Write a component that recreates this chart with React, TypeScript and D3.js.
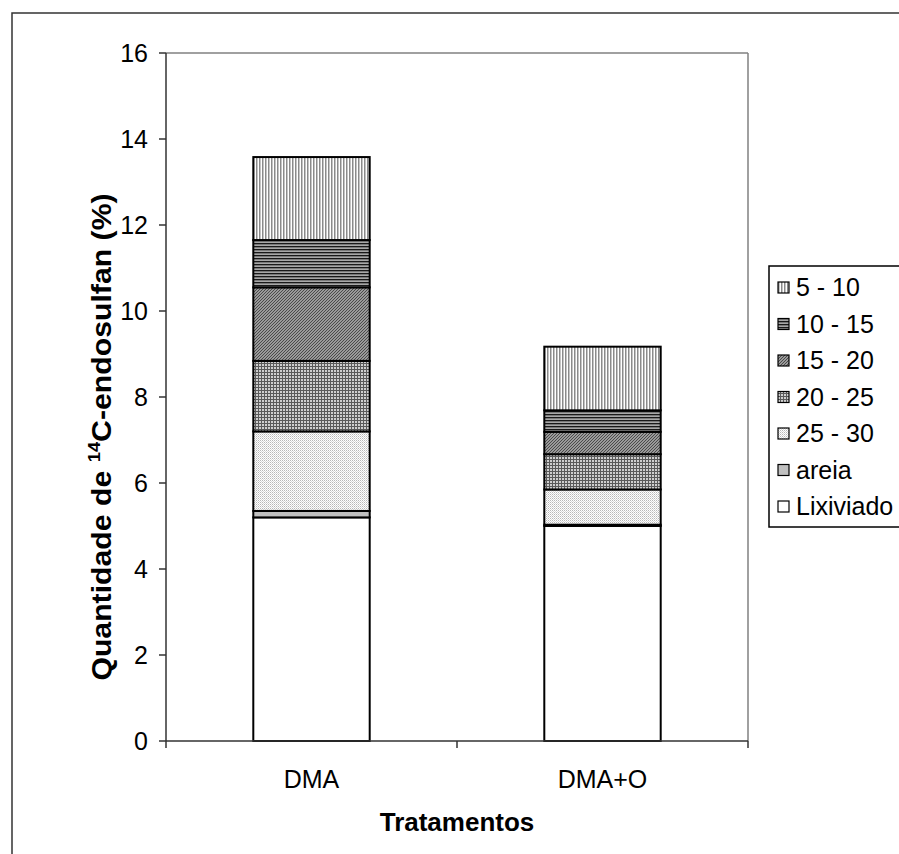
import React from "react";
import * as d3 from "d3";

// Treatments and the amount of 14C-endosulfan found in each fraction (%)
const categories = ["DMA", "DMA+O"];
const seriesKeys = ["Lixiviado", "areia", "25 - 30", "20 - 25", "15 - 20", "10 - 15", "5 - 10"];
const lixiviado = [5.2, 5.0];
const areia = [0.15, 0.03];
const depth25to30 = [1.85, 0.82];
const depth20to25 = [1.64, 0.82];
const depth15to20 = [1.71, 0.52];
const depth10to15 = [1.1, 0.5];
const depth5to10 = [1.93, 1.48];
const yTicks = [0, 2, 4, 6, 8, 10, 12, 14, 16];

const seriesValues: Record<string, number[]> = {
  "Lixiviado": lixiviado,
  "areia": areia,
  "25 - 30": depth25to30,
  "20 - 25": depth20to25,
  "15 - 20": depth15to20,
  "10 - 15": depth10to15,
  "5 - 10": depth5to10,
};

const fills: Record<string, string> = {
  "Lixiviado": "#ffffff",
  "areia": "#c0c0c0",
  "25 - 30": "url(#p2530)",
  "20 - 25": "url(#p2025)",
  "15 - 20": "url(#p1520)",
  "10 - 15": "url(#p1015)",
  "5 - 10": "url(#p510)",
};

const W = 899;
const H = 854;
const plot = { left: 166, right: 748, top: 53, bottom: 741 };
const FONT = "Arial, 'Liberation Sans', Helvetica, sans-serif";
const FS = 25;

export default function App() {
  const x = d3
    .scaleBand<string>()
    .domain(categories)
    .range([plot.left, plot.right])
    .paddingInner(0.6)
    .paddingOuter(0.3);
  const y = d3.scaleLinear().domain([0, 16]).range([plot.bottom, plot.top]);

  const table = categories.map((c, i) => {
    const row: Record<string, any> = { cat: c };
    seriesKeys.forEach((k) => (row[k] = seriesValues[k][i]));
    return row;
  });
  const stacked = d3.stack<Record<string, any>>().keys(seriesKeys)(table);

  const legendOrder = [...seriesKeys].reverse();
  const legend = { x: 769, y: 266, w: 160, h: 261 };

  return (
    <svg
      width={W}
      height={H}
      style={{ position: "absolute", left: 0, top: 0, background: "#fff" }}
      fontFamily={FONT}
    >
      <defs>
        <pattern id="p510" width={3} height={3} patternUnits="userSpaceOnUse">
          <rect width={3} height={3} fill="#ffffff" />
          <rect x={1} width={1} height={3} fill="#8a8a8a" />
          <rect x={2} width={1} height={3} fill="#c4c4c4" />
        </pattern>
        <pattern id="p1015" width={3} height={3} patternUnits="userSpaceOnUse">
          <rect width={3} height={3} fill="#7a7a7a" />
          <rect y={0} width={3} height={1} fill="#1a1a1a" />
          <rect y={2} width={3} height={1} fill="#a8a8a8" />
        </pattern>
        <pattern id="p1520" width={3} height={3} patternUnits="userSpaceOnUse">
          <rect width={3} height={3} fill="#9a9a9a" />
          <rect x={0} y={2} width={1} height={1} fill="#4a4a4a" />
          <rect x={1} y={1} width={1} height={1} fill="#4a4a4a" />
          <rect x={2} y={0} width={1} height={1} fill="#4a4a4a" />
        </pattern>
        <pattern id="p2025" width={3} height={3} patternUnits="userSpaceOnUse">
          <rect width={3} height={3} fill="#cfcfcf" />
          <rect width={3} height={1} fill="#5a5a5a" />
          <rect width={1} height={3} fill="#5a5a5a" />
        </pattern>
        <pattern id="p2530" width={2} height={2} patternUnits="userSpaceOnUse">
          <rect width={2} height={2} fill="#ffffff" />
          <rect width={1} height={1} fill="#b8b8b8" />
          <rect x={1} y={1} width={1} height={1} fill="#d8d8d8" />
        </pattern>
      </defs>

      {/* outer chart frame */}
      <rect x={12} y={13} width={1000} height={1000} fill="none" stroke="#333" strokeWidth={1.5} />

      {/* plot area frame */}
      <line x1={plot.left} x2={plot.right} y1={plot.top} y2={plot.top} stroke="#808080" strokeWidth={1.5} />
      <line x1={plot.right} x2={plot.right} y1={plot.top} y2={plot.bottom} stroke="#808080" strokeWidth={1.5} />

      {/* stacked bars */}
      {stacked.map((layer) => (
        <g key={layer.key}>
          {layer.map((d, i) => (
            <rect
              key={i}
              x={x(categories[i])!}
              width={x.bandwidth()}
              y={y(d[1])}
              height={Math.max(0, y(d[0]) - y(d[1]))}
              fill={fills[layer.key]}
              stroke="#000"
              strokeWidth={2}
            />
          ))}
        </g>
      ))}

      {/* y axis */}
      <line x1={plot.left} x2={plot.left} y1={plot.top} y2={plot.bottom} stroke="#333" strokeWidth={1.5} />
      {yTicks.map((t) => (
        <g key={t}>
          <line x1={plot.left - 7} x2={plot.left} y1={y(t)} y2={y(t)} stroke="#333" strokeWidth={1.5} />
          <text x={plot.left - 18} y={y(t)} dy="0.36em" textAnchor="end" fontSize={FS} fill="#000">
            {t}
          </text>
        </g>
      ))}

      {/* x axis */}
      <line x1={plot.left} x2={plot.right} y1={plot.bottom} y2={plot.bottom} stroke="#333" strokeWidth={1.5} />
      {[plot.left, (plot.left + plot.right) / 2, plot.right].map((px, i) => (
        <line key={i} x1={px} x2={px} y1={plot.bottom} y2={plot.bottom + 7} stroke="#333" strokeWidth={1.5} />
      ))}
      {categories.map((c) => (
        <text key={c} x={x(c)! + x.bandwidth() / 2} y={788} textAnchor="middle" fontSize={FS} fill="#000">
          {c}
        </text>
      ))}

      <text x={(plot.left + plot.right) / 2} y={831} textAnchor="middle" fontSize={26} fontWeight="bold" fill="#000">
        Tratamentos
      </text>

      <text
        transform={`translate(111,${(plot.top + plot.bottom) / 2 + 40}) rotate(-90) scale(1.08,1)`}
        textAnchor="middle"
        fontSize={28}
        fontWeight="bold"
        fill="#000"
      >
        Quantidade de <tspan fontSize={17} dy={-11}>14</tspan>
        <tspan dy={11}>C-endosulfan (%)</tspan>
      </text>

      {/* legend */}
      <rect x={legend.x} y={legend.y} width={legend.w} height={legend.h} fill="#fff" stroke="#000" strokeWidth={1.5} />
      {legendOrder.map((k, i) => {
        const cy = legend.y + 21 + i * 36.5;
        return (
          <g key={k}>
            <rect x={legend.x + 9} y={cy - 5} width={11} height={11} fill={fills[k]} stroke="#000" strokeWidth={1.2} />
            <text x={legend.x + 27} y={cy} dy="0.36em" fontSize={FS} fill="#000">
              {k}
            </text>
          </g>
        );
      })}
    </svg>
  );
}
